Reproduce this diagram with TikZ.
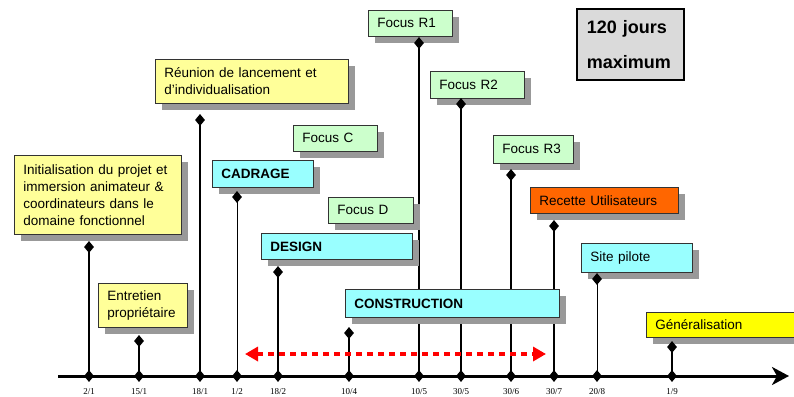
\documentclass[tikz,border=0pt]{standalone}
\usepackage{fontspec}
\setmainfont{Liberation Sans}
\newfontfamily\datefont{Liberation Serif}
\usetikzlibrary{shapes.geometric,shadows,arrows.meta}
\definecolor{jauneclair}{HTML}{FFFF99}
\definecolor{vertclair}{HTML}{CCFFCC}
\definecolor{cyanclair}{HTML}{99FFFF}
\definecolor{orangevif}{HTML}{FF6600}
\definecolor{jaunevif}{HTML}{FFFF00}
\definecolor{grisclair}{HTML}{DADADA}
\definecolor{ombre}{HTML}{999999}
\pgfdeclarelayer{fond}
\pgfsetlayers{fond,main}
\tikzset{
  boite/.style={draw=black!80, line width=.7pt, anchor=north west, align=left,
    inner xsep=9pt, inner ysep=2pt, font=\fontsize{13.5}{17}\selectfont,
    drop shadow={shadow xshift=7pt, shadow yshift=-7pt, fill=ombre, opacity=1}},
  losange/.style={diamond, fill=black, inner sep=0pt, minimum width=10pt, minimum height=12pt},
  axe/.style={line width=3pt, -{Stealth[length=17pt, width=18pt, inset=5pt]}},
  duree/.style={red, line width=4pt, dash pattern=on 6pt off 5pt,
    {Triangle[length=13pt, width=14pt]}-{Triangle[length=13pt, width=14pt]}}
}
\begin{document}
\begin{tikzpicture}[x=1pt, y=-1pt]
\useasboundingbox (0,0) rectangle (794,396);
% boites
\node[boite, fill=jauneclair, text width=149pt, minimum height=79pt] (init) at (14,155)
  {Initialisation du projet et\\immersion animateur \&\\coordinateurs dans le\\domaine fonctionnel};
\node[boite, fill=jauneclair, text width=71pt, minimum height=44pt] (entretien) at (98,283)
  {Entretien\\propriétaire};
\node[boite, fill=jauneclair, text width=175pt, minimum height=44pt] (reunion) at (155,59)
  {Réunion de lancement et\\d'individualisation};
\node[boite, fill=vertclair, text width=66pt, minimum height=26pt] (focusC) at (293,125) {Focus C};
\node[boite, fill=cyanclair, text width=83pt, minimum height=27pt, font=\fontsize{13.5}{17}\selectfont\bfseries] (cadrage) at (212,160) {CADRAGE};
\node[boite, fill=vertclair, text width=67pt, minimum height=26pt] (focusD) at (328,197) {Focus D};
\node[boite, fill=cyanclair, text width=133pt, minimum height=26pt, font=\fontsize{13.5}{17}\selectfont\bfseries] (design) at (261,233) {DESIGN};
\node[boite, fill=cyanclair, text width=196pt, minimum height=28pt, font=\fontsize{13.5}{17}\selectfont\bfseries] (construction) at (345,289) {CONSTRUCTION};
\node[boite, fill=vertclair, text width=66pt, minimum height=26pt] (focusR1) at (368,10) {Focus R1};
\node[boite, fill=vertclair, text width=76pt, minimum height=27pt] (focusR2) at (430,71) {Focus R2};
\node[boite, fill=vertclair, text width=62pt, minimum height=28pt] (focusR3) at (493,135) {Focus R3};
\node[boite, fill=orangevif, text width=130pt, minimum height=26pt] (recette) at (530,187) {Recette Utilisateurs};
\node[boite, fill=cyanclair, text width=93pt, minimum height=29pt] (site) at (581,243) {Site pilote};
\node[boite, fill=jaunevif, text width=142pt, minimum height=25pt] (generalisation) at (646,312) {Généralisation};
\node[draw=black, line width=1.6pt, fill=grisclair, anchor=north west, align=left,
  inner xsep=10pt, text width=87pt, minimum height=71pt,
  font=\fontsize{18}{35}\selectfont\bfseries] (maximum) at (576,8) {120 jours\\maximum};
% losanges sous les boites
\node[losange] (l-init) at (89,247) {};
\node[losange] (l-entretien) at (139,341) {};
\node[losange] (l-reunion) at (200,120) {};
\node[losange] (l-cadrage) at (237,197) {};
\node[losange] (l-design) at (278,272) {};
\node[losange] (l-construction) at (349,333) {};
\node[losange] (l-focusR1) at (419,43) {};
\node[losange] (l-focusR2) at (461,104) {};
\node[losange] (l-focusR3) at (511,175) {};
\node[losange] (l-recette) at (554,226) {};
\node[losange] (l-site) at (597,279) {};
\node[losange] (l-generalisation) at (672,347) {};
% axe du temps
\coordinate (axe-debut) at (58,376);
\coordinate (axe-fin) at (789,376);
\draw[axe] (axe-debut) -- (axe-fin);
\foreach \x/\d/\ep/\cible in {89/{2/1}/1.6/init, 139/{15/1}/1.6/entretien, 200/{18/1}/1.6/reunion,
  237/{1/2}/1/cadrage, 278/{18/2}/1.6/design, 349/{10/4}/1.6/construction, 419/{10/5}/1.2/focusR1,
  461/{30/5}/2.2/focusR2, 511/{30/6}/2.2/focusR3, 554/{30/7}/1.2/recette, 597/{20/8}/1/site,
  672/{1/9}/1.6/generalisation}
{
  \node[losange] (t-\cible) at (\x,376) {};
  \node[anchor=north, inner sep=1pt, font=\datefont\fontsize{9}{10}\selectfont] (d-\cible) at (\x,387) {\d};
  \begin{pgfonlayer}{fond}
    \draw[line width=\ep pt] (t-\cible.center) -- (l-\cible.center);
  \end{pgfonlayer}
}
% fleche rouge
\coordinate (fl-g) at (245,354);
\coordinate (fl-d) at (546,354);
\draw[duree] (fl-g) -- (fl-d);
\end{tikzpicture}
\end{document}
